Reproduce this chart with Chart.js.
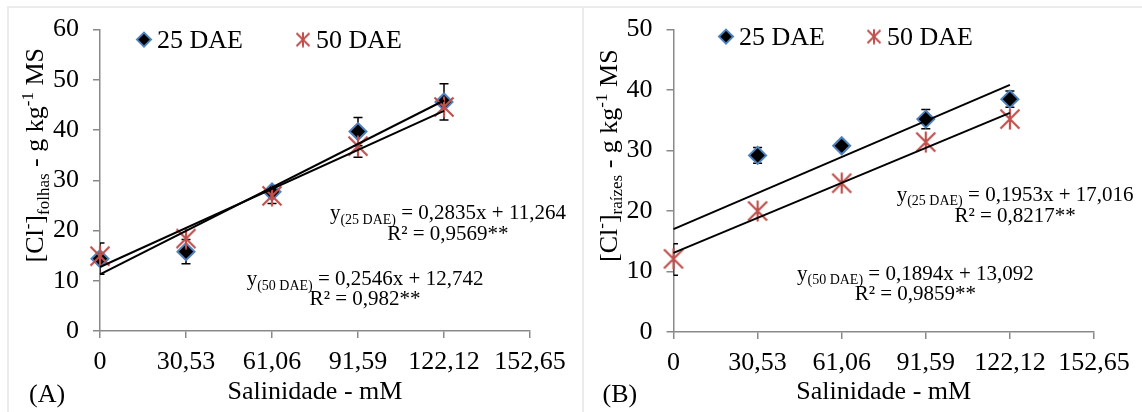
<!DOCTYPE html>
<html>
<head>
<meta charset="utf-8">
<script src="https://cdn.jsdelivr.net/npm/chart.js@4.4.1/dist/chart.umd.min.js"></script>
<style>
  body { margin: 0; background: #fff; width: 1142px; height: 412px; overflow: hidden; position: relative; }
  .frame { position: absolute; top: 6px; height: 420px; border-top: 2px solid #ebebeb; border-left: 2px solid #ebebeb; }
  .panel { position: absolute; top: 0; }
</style>
</head>
<body>
<div class="frame" style="left:7px;width:580px"></div>
<div class="frame" style="left:582px;width:570px"></div>
<canvas id="chartA" class="panel" width="575" height="412" style="left:0"></canvas>
<canvas id="chartB" class="panel" width="567" height="412" style="left:575px"></canvas>
<script>
// salinity levels (mM)
const doses = [0, 30.53, 61.06, 91.59, 122.12];
const xTicks = [0, 30.53, 61.06, 91.59, 122.12, 152.65];
const xTickLabels = ["0", "30,53", "61,06", "91,59", "122,12", "152,65"];

// Cl- in leaves (A)
const folhas25 = [14.4, 15.8, 27.7, 39.7, 45.6];
const folhas25Err = [3.1, 2.4, 0, 2.8, 3.6];
const folhas50 = [14.9, 18.4, 26.9, 36.8, 44.6];
const folhas50Err = [0, 0, 1.5, 2.2, 0];

// Cl- in roots (B)
const raizes25 = [12.0, 29.2, 30.8, 35.2, 38.5];
const raizes25Err = [2.6, 1.3, 0.5, 1.6, 1.35];
const raizes50 = [12.1, 20.0, 24.6, 31.4, 35.2];

// regression lines, values at 0 and 122,12 mM
const fitX = [0, 122.12];
const folhasFit25 = [11.264, 45.885];
const folhasFit50 = [12.742, 43.834];
const raizesFit25 = [17.016, 40.866];
const raizesFit50 = [13.092, 36.222];

const seriesNames = ["25 DAE", "50 DAE"];
const folhasEq = [
  { dae: "(25 DAE)", eq: " = 0,2835x + 11,264", r2: "R² = 0,9569**" },
  { dae: "(50 DAE)", eq: " = 0,2546x + 12,742", r2: "R² = 0,982**" }
];
const raizesEq = [
  { dae: "(25 DAE)", eq: " = 0,1953x + 17,016", r2: "R² = 0,8217**" },
  { dae: "(50 DAE)", eq: " = 0,1894x + 13,092", r2: "R² = 0,9859**" }
];

const SERIF = "'Liberation Serif', 'Times New Roman', serif";
const RED = "#c0504d";
const BLUE = "#4f81bd";
const AXIS = "#898989";

Chart.defaults.font.family = SERIF;
Chart.defaults.color = "#000";

function starImage(size, lw) {
  const c = document.createElement("canvas");
  c.width = c.height = size;
  const g = c.getContext("2d");
  g.strokeStyle = RED;
  g.lineWidth = lw;
  const m = 1.5, h = size / 2;
  g.beginPath();
  g.moveTo(m, m); g.lineTo(size - m, size - m);
  g.moveTo(size - m, m); g.lineTo(m, size - m);
  g.moveTo(h, 0.5); g.lineTo(h, size - 0.5);
  g.stroke();
  return c;
}
const starBig = starImage(22, 2.2);
const starSmall = starImage(16, 2);

const pts = (xs, ys) => xs.map((x, i) => ({ x: x, y: ys[i] }));

// draw runs of text with sub/superscripts
function runsWidth(ctx, runs, size) {
  let w = 0;
  runs.forEach(r => {
    ctx.font = `${r.k ? Math.round(size * 0.65) : size}px ${SERIF}`;
    w += ctx.measureText(r.t).width;
  });
  return w;
}
function drawRuns(ctx, runs, x, y, size) {
  runs.forEach(r => {
    const s = r.k ? Math.round(size * 0.65) : size;
    ctx.font = `${s}px ${SERIF}`;
    const dy = r.k === "sub" ? size * 0.22 : r.k === "sup" ? -size * 0.38 : 0;
    ctx.fillText(r.t, x, y + dy);
    x += ctx.measureText(r.t).width;
  });
}

const errorBars = {
  id: "errorBars",
  beforeDatasetsDraw(chart) {
    const { ctx, chartArea: a, scales: { x, y } } = chart;
    ctx.save();
    ctx.beginPath();
    ctx.rect(a.left, a.top, a.right - a.left, a.bottom - a.top);
    ctx.clip();
    ctx.strokeStyle = "#000";
    ctx.lineWidth = 1.5;
    chart.data.datasets.forEach(ds => {
      if (!ds.errors) return;
      ds.data.forEach((p, i) => {
        const e = ds.errors[i];
        if (!e) return;
        const px = x.getPixelForValue(p.x);
        const top = y.getPixelForValue(p.y + e);
        const bot = y.getPixelForValue(p.y - e);
        ctx.beginPath();
        ctx.moveTo(px, top); ctx.lineTo(px, bot);
        ctx.moveTo(px - 4.5, top); ctx.lineTo(px + 4.5, top);
        ctx.moveTo(px - 4.5, bot); ctx.lineTo(px + 4.5, bot);
        ctx.stroke();
      });
    });
    ctx.restore();
  }
};

const decorations = {
  id: "decorations",
  afterDraw(chart, args, o) {
    const { ctx, chartArea: a, scales: { x, y } } = chart;
    ctx.save();
    ctx.fillStyle = "#000";
    ctx.textBaseline = "alphabetic";

    // key
    const ky = a.top + o.keyY;
    const dx = a.left + o.keyX[0];
    ctx.beginPath();
    ctx.moveTo(dx, ky - 7); ctx.lineTo(dx + 7, ky); ctx.lineTo(dx, ky + 7); ctx.lineTo(dx - 7, ky);
    ctx.closePath();
    ctx.fillStyle = "#000";
    ctx.fill();
    ctx.strokeStyle = BLUE;
    ctx.lineWidth = 2;
    ctx.stroke();
    const sx = a.left + o.keyX[1];
    ctx.drawImage(starSmall, sx - 8, ky - 8);
    ctx.font = `26px ${SERIF}`;
    ctx.fillText(seriesNames[0], dx + 13, ky + 8);
    ctx.fillText(seriesNames[1], sx + 13, ky + 8);

    // regression equations
    o.equations.forEach((e, i) => {
      const pos = o.eqPos[i];
      const cx = x.getPixelForValue(pos.x);
      const runs = [{ t: "y" }, { t: e.dae, k: "sub" }, { t: e.eq }];
      const w = runsWidth(ctx, runs, 21);
      drawRuns(ctx, runs, cx - w / 2, y.getPixelForValue(pos.y[0]) + 7, 21);
      ctx.font = `21px ${SERIF}`;
      ctx.textAlign = "center";
      ctx.fillText(e.r2, cx, y.getPixelForValue(pos.y[1]) + 7);
      ctx.textAlign = "left";
    });

    // y axis title
    const tw = runsWidth(ctx, o.yTitle, 26);
    ctx.save();
    ctx.translate(a.left - 66, a.top + (a.bottom - a.top) * 0.417);
    ctx.rotate(-Math.PI / 2);
    drawRuns(ctx, o.yTitle, -tw / 2, 9, 26);
    ctx.restore();

    // panel letter
    ctx.font = `26px ${SERIF}`;
    ctx.fillText(o.letter, a.left - 71, 402);
    ctx.restore();
  }
};

function makeChart(id, c) {
  return new Chart(document.getElementById(id), {
    type: "scatter",
    data: {
      datasets: [
        { data: pts(fitX, c.fit25), showLine: true, borderColor: "#000", borderWidth: 2, pointRadius: 0, order: 0 },
        { data: pts(fitX, c.fit50), showLine: true, borderColor: "#000", borderWidth: 2, pointRadius: 0, order: 0 },
        { data: pts(doses, c.v50), errors: c.e50, pointStyle: starBig, pointRadius: 11, order: 1 },
        {
          data: pts(doses, c.v25), errors: c.e25, pointStyle: "rectRot", pointRadius: c.r25,
          backgroundColor: "#000", borderColor: BLUE, borderWidth: 2, order: 2
        }
      ]
    },
    options: {
      responsive: false,
      animation: false,
      clip: false,
      layout: { padding: { top: 29, right: c.padRight, left: 0, bottom: 0 } },
      plugins: {
        legend: { display: false },
        tooltip: { enabled: false },
        decorations: c.deco
      },
      scales: {
        x: {
          type: "linear", min: 0, max: 152.65,
          afterBuildTicks: s => { s.ticks = xTicks.map(v => ({ value: v })); },
          afterFit: s => { s.height = c.xAxisH; },
          grid: { drawOnChartArea: false, color: AXIS, lineWidth: 1.5, tickLength: 7 },
          border: { color: AXIS, width: 1.5 },
          ticks: { font: { size: 26 }, color: "#000", padding: 9, maxRotation: 0, autoSkip: false,
                   callback: (v, i) => xTickLabels[i] },
          title: { display: true, text: "Salinidade - mM", font: { size: 26 }, color: "#000",
                   padding: { top: 0, bottom: 4 } }
        },
        y: {
          min: 0, max: c.yMax,
          afterFit: s => { s.width = c.yAxisW; },
          grid: { drawOnChartArea: false, color: AXIS, lineWidth: 1.5, tickLength: 7 },
          border: { color: AXIS, width: 1.5 },
          ticks: { stepSize: 10, font: { size: 26 }, color: "#000", padding: 14 }
        }
      }
    },
    plugins: [errorBars, decorations]
  });
}

makeChart("chartA", {
  v25: folhas25, e25: folhas25Err, v50: folhas50, e50: folhas50Err,
  r25: 8.5, fit25: folhasFit25, fit50: folhasFit50,
  yMax: 60, yAxisW: 100, xAxisH: 81, padRight: 45,
  deco: {
    letter: "(A)", keyX: [44, 203], keyY: 10,
    equations: folhasEq,
    eqPos: [{ x: 123.5, y: [23.6, 19.5] }, { x: 94.1, y: [10.5, 6.6] }],
    yTitle: [{ t: "[Cl" }, { t: "-", k: "sup" }, { t: "]" }, { t: "folhas", k: "sub" },
             { t: " - g kg" }, { t: "-1", k: "sup" }, { t: " MS" }]
  }
});

makeChart("chartB", {
  v25: raizes25, e25: raizes25Err, v50: raizes50, e50: null,
  r25: [0, 8.5, 8.5, 8.5, 8.5], fit25: raizesFit25, fit50: raizesFit50,
  yMax: 50, yAxisW: 98.5, xAxisH: 80, padRight: 48,
  deco: {
    letter: "(B)", keyX: [52.5, 200.5], keyY: 7,
    equations: raizesEq,
    eqPos: [{ x: 124.0, y: [22.9, 19.3] }, { x: 87.8, y: [9.8, 6.4] }],
    yTitle: [{ t: "[Cl" }, { t: "-", k: "sup" }, { t: "]" }, { t: "raízes", k: "sub" },
             { t: " - g kg" }, { t: "-1", k: "sup" }, { t: " MS" }]
  }
});
</script>
</body>
</html>
